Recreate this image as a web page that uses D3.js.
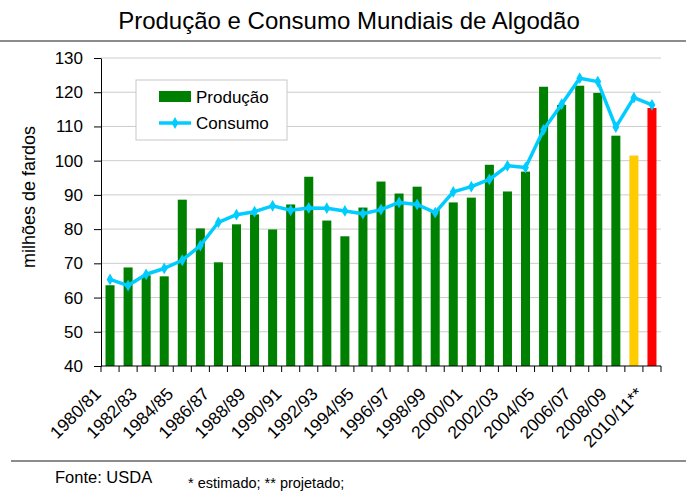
<!DOCTYPE html>
<html>
<head>
  <meta charset="UTF-8">
  <title>Produção e Consumo Mundiais de Algodão</title>
  <script src="https://d3js.org/d3.v7.min.js"></script>
  <style>
    body { margin: 0; background: #fff; }
    text { font-family: "Liberation Sans", Arial, sans-serif; fill: #000; }
    .grid line { stroke: #cccccc; stroke-width: 1; }
    .axis path, .axis line { stroke: #000; }
  </style>
</head>
<body>
<div id="chart"></div>
<script>
  // safras (eixo x)
  var safras = ["1980/81","1981/82","1982/83","1983/84","1984/85","1985/86","1986/87","1987/88",
    "1988/89","1989/90","1990/91","1991/92","1992/93","1993/94","1994/95","1995/96",
    "1996/97","1997/98","1998/99","1999/00","2000/01","2001/02","2002/03","2003/04",
    "2004/05","2005/06","2006/07","2007/08","2008/09","2009/10","2010/11**"];

  // producao e consumo, milhoes de fardos
  var producao = [63.6, 68.8, 66.5, 66.2, 88.6, 80.2, 70.3, 81.4, 84.3, 79.9, 87.2, 95.3,
    82.5, 77.9, 86.3, 93.9, 90.4, 92.4, 85.5, 87.8, 89.2, 98.8, 91.0, 96.8,
    121.6, 116.3, 121.9, 119.8, 107.3, 101.5, 115.4];
  var consumo = [65.3, 63.5, 66.8, 68.5, 70.9, 75.2, 82.0, 84.2, 85.1, 86.8, 85.5, 86.2,
    86.1, 85.3, 84.5, 85.7, 87.8, 87.2, 84.8, 90.9, 92.4, 94.5, 98.5, 98.0,
    109.0, 116.5, 124.1, 123.1, 109.8, 118.4, 116.3];

  // situacao de cada safra: normal, estimado (*), projetado (**)
  var situacao = safras.map(function(d, i) {
    return i === 29 ? "estimado" : (i === 30 ? "projetado" : "normal");
  });
  var yTicks = [40, 50, 60, 70, 80, 90, 100, 110, 120, 130];

  var width = 686, height = 491;
  var margin = {top: 58, right: 25, bottom: 125, left: 101};
  var plotW = width - margin.left - margin.right;   // 560
  var plotH = height - margin.top - margin.bottom;  // 308

  var svg = d3.select("#chart").append("svg")
      .attr("width", width)
      .attr("height", height);

  var x = d3.scaleBand().domain(safras).range([0, plotW]).paddingInner(0.5).paddingOuter(0.25);
  var y = d3.scaleLinear().domain([40, 130]).range([plotH, 0]);
  var cor = d3.scaleOrdinal().domain(["normal","estimado","projetado"]).range(["#008000","#ffcc00","#ff0000"]);

  // titulo e linhas de moldura
  svg.append("text")
      .attr("x", 349)
      .attr("y", 29)
      .attr("text-anchor", "middle")
      .style("font-size", "24px")
      .text("Produção e Consumo Mundiais de Algodão");

  svg.append("line").attr("x1", 0).attr("x2", width).attr("y1", 41).attr("y2", 41)
      .attr("stroke", "#666").attr("stroke-width", 1.5);
  svg.append("line").attr("x1", 11).attr("x2", width).attr("y1", 461).attr("y2", 461)
      .attr("stroke", "#666").attr("stroke-width", 1.5);

  var g = svg.append("g").attr("transform", "translate(" + margin.left + "," + margin.top + ")");

  // grade horizontal
  g.append("g").attr("class", "grid")
    .selectAll("line")
    .data(yTicks.slice(1))
    .enter().append("line")
      .attr("x1", 0).attr("x2", plotW)
      .attr("y1", function(d) { return y(d); })
      .attr("y2", function(d) { return y(d); });

  // barras de producao
  g.append("g").selectAll("rect")
    .data(producao)
    .enter().append("rect")
      .attr("x", function(d, i) { return x(safras[i]); })
      .attr("width", x.bandwidth())
      .attr("y", function(d) { return y(d); })
      .attr("height", function(d) { return plotH - y(d); })
      .attr("fill", function(d, i) { return cor(situacao[i]); });

  // eixo y
  var yAxis = g.append("g").attr("class", "axis")
      .call(d3.axisLeft(y).tickValues(yTicks).tickSize(7).tickPadding(11).tickSizeOuter(0));
  yAxis.selectAll("text").style("font-size", "17px");

  // eixo x: linha e marcas entre categorias
  var bordas = safras.map(function(d) { return x(d) - x.bandwidth() / 2; }).concat([plotW]);
  var xg = g.append("g").attr("class", "axis").attr("transform", "translate(0," + plotH + ")");
  xg.append("line").attr("x1", 0).attr("x2", plotW).attr("stroke", "#000");
  xg.selectAll("line.tick")
    .data(bordas)
    .enter().append("line")
      .attr("class", "tick")
      .attr("x1", function(d) { return d; }).attr("x2", function(d) { return d; })
      .attr("y1", 0).attr("y2", 6)
      .attr("stroke", "#000");

  xg.selectAll("text")
    .data(safras.filter(function(d, i) { return i % 2 === 0; }))
    .enter().append("text")
      .attr("text-anchor", "end")
      .attr("transform", function(d) {
        var cx = x(d) + x.bandwidth() / 2 - 8;
        return "translate(" + cx + ",29) rotate(-45)";
      })
      .style("font-size", "17.5px")
      .text(function(d) { return d; });

  // linha de consumo
  var linha = d3.line()
      .x(function(d, i) { return x(safras[i]) + x.bandwidth() / 2; })
      .y(function(d) { return y(d); });

  g.append("path")
      .datum(consumo)
      .attr("fill", "none")
      .attr("stroke", "#00ccff")
      .attr("stroke-width", 3.5)
      .attr("stroke-linejoin", "round")
      .attr("d", linha);

  var losango = d3.symbol().type(d3.symbolDiamond).size(40);
  g.append("g").selectAll("path")
    .data(consumo)
    .enter().append("path")
      .attr("d", losango)
      .attr("fill", "#00ccff")
      .attr("transform", function(d, i) {
        return "translate(" + (x(safras[i]) + x.bandwidth() / 2) + "," + y(d) + ")";
      });

  // titulo do eixo y
  svg.append("text")
      .attr("transform", "translate(35,197) rotate(-90)")
      .attr("text-anchor", "middle")
      .style("font-size", "18px")
      .text("milhões de fardos");

  // legenda
  var leg = svg.append("g").attr("transform", "translate(136,80)");
  leg.append("rect").attr("width", 151).attr("height", 60)
      .attr("fill", "#fff").attr("stroke", "#c8c8c8");
  leg.append("rect").attr("x", 23).attr("y", 11).attr("width", 32).attr("height", 11)
      .attr("fill", cor("normal"));
  leg.append("text").attr("x", 60).attr("y", 23).style("font-size", "17px").text("Produção");
  leg.append("line").attr("x1", 23).attr("x2", 55).attr("y1", 43).attr("y2", 43)
      .attr("stroke", "#00ccff").attr("stroke-width", 3.5);
  leg.append("path").attr("d", losango).attr("fill", "#00ccff").attr("transform", "translate(39,43)");
  leg.append("text").attr("x", 60).attr("y", 49).style("font-size", "17px").text("Consumo");

  // rodape
  svg.append("text").attr("x", 55).attr("y", 483).style("font-size", "16.5px").text("Fonte: USDA");
  svg.append("text").attr("x", 188).attr("y", 488).style("font-size", "14.5px").text("* estimado; ** projetado;");
</script>
</body>
</html>
